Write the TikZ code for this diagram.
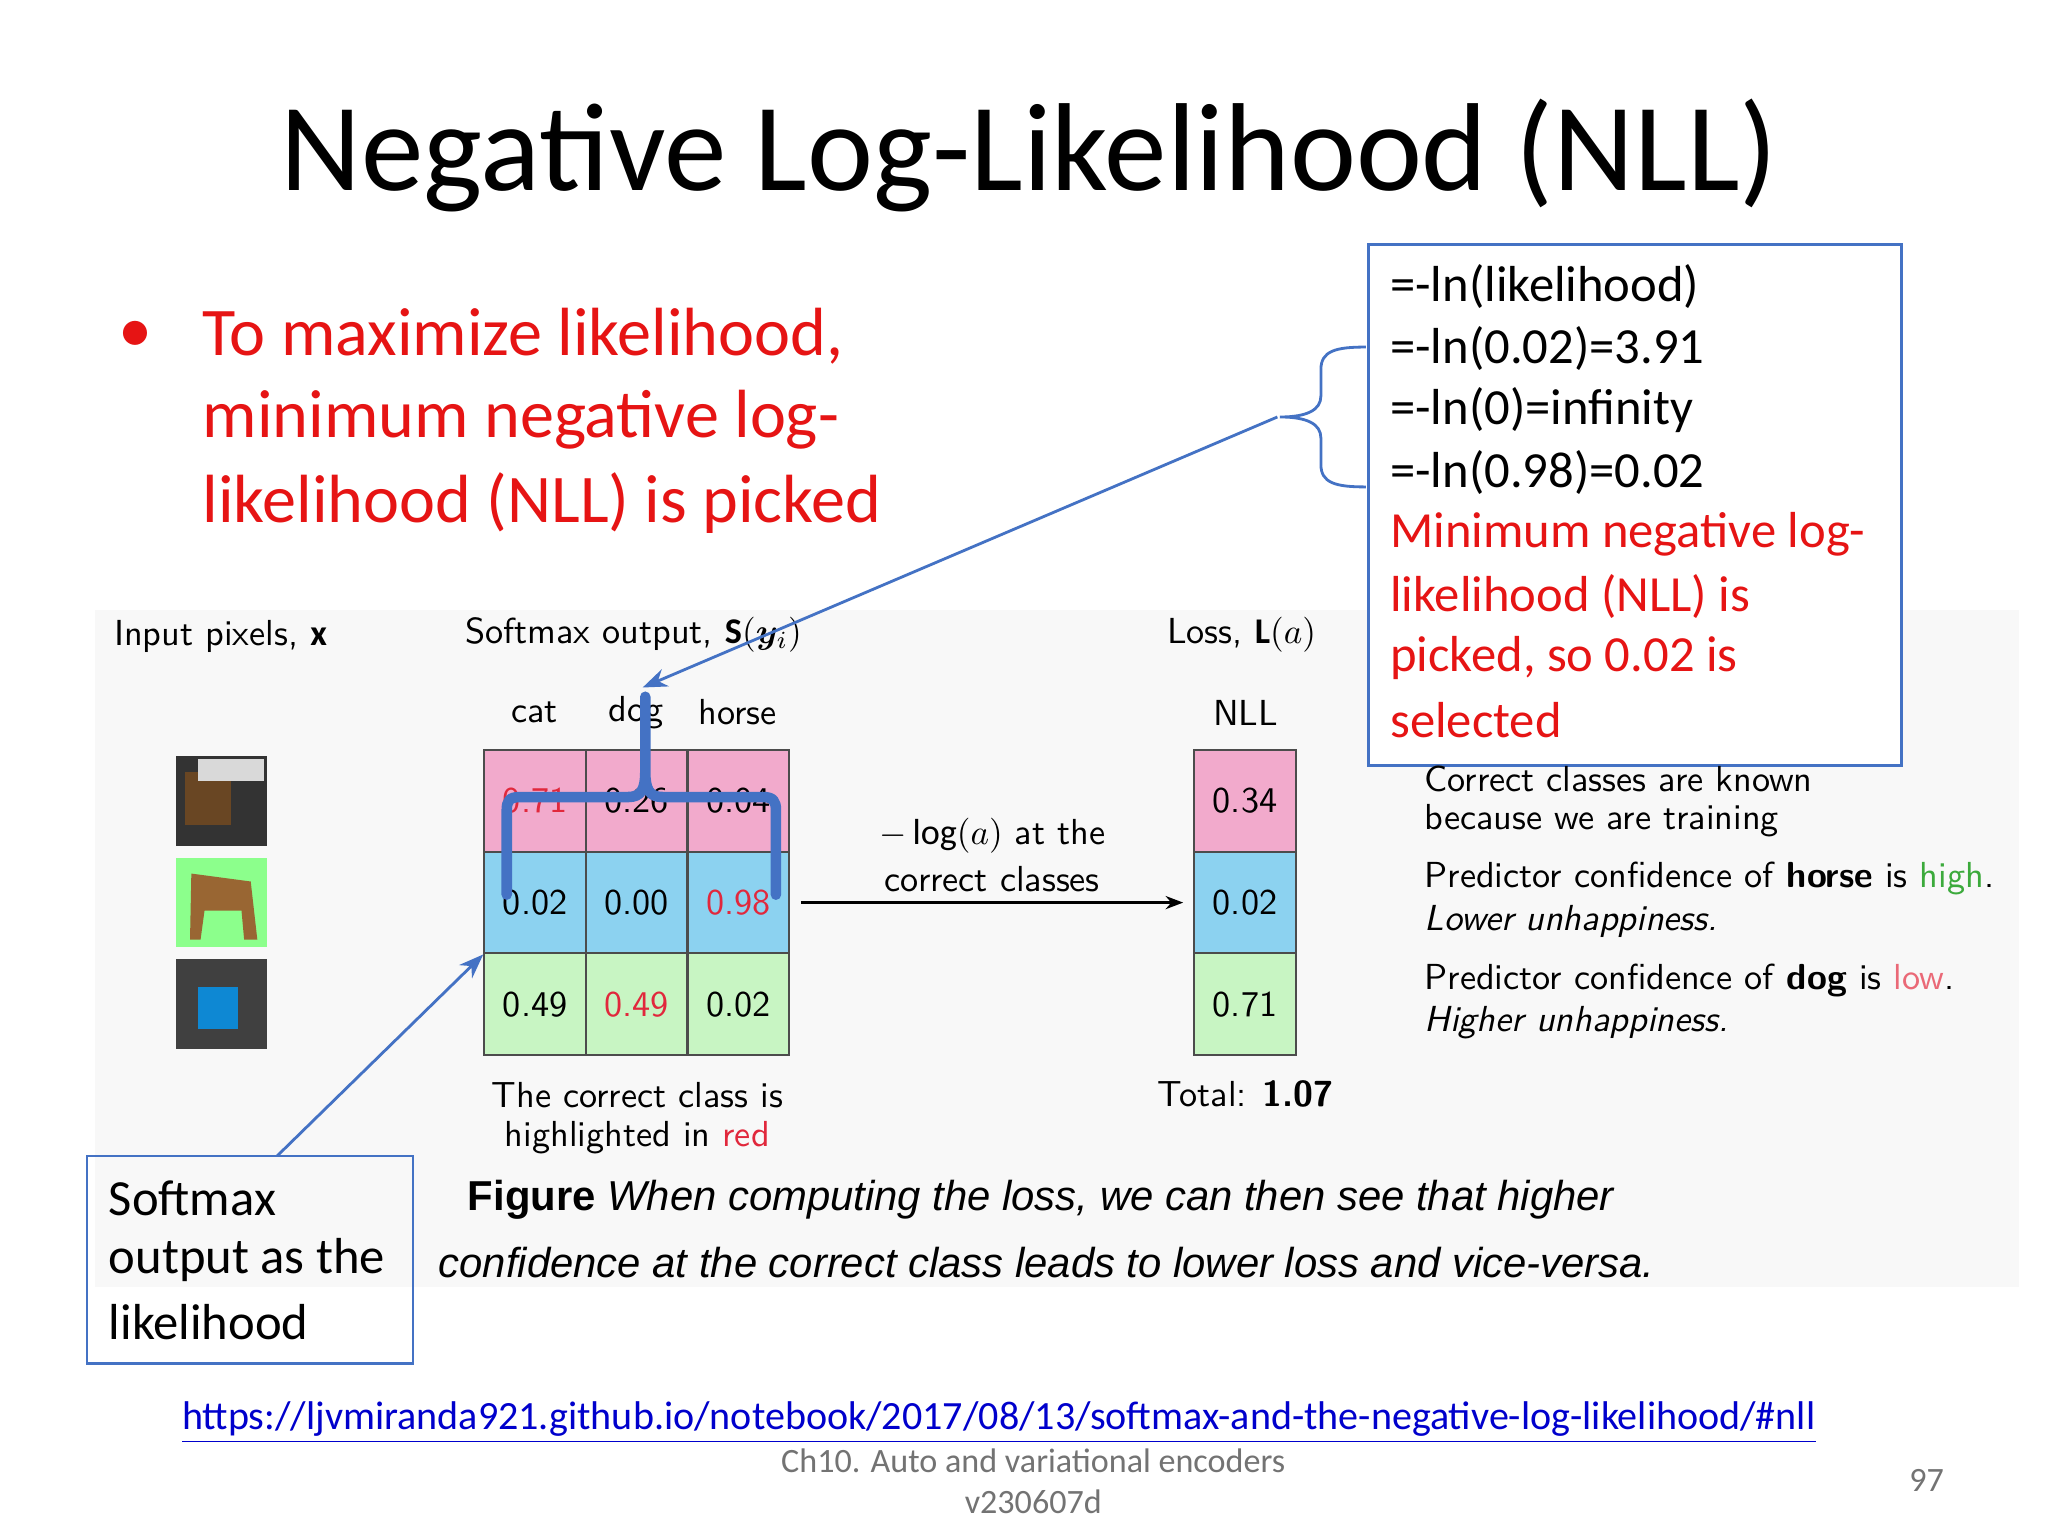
\documentclass[tikz,border=0pt]{standalone}
\usepackage{amsmath,bm}
\usepackage{fontspec}
\setmainfont{Carlito}
\newfontfamily\capfont{Liberation Sans}
\usetikzlibrary{arrows.meta}
\definecolor{pbl}{RGB}{68,114,196}
\definecolor{slred}{RGB}{230,20,20}
\definecolor{cpink}{RGB}{242,170,204}
\definecolor{cblue}{RGB}{140,210,240}
\definecolor{cgreen}{RGB}{200,245,195}
\definecolor{figbg}{RGB}{248,248,248}
\definecolor{hired}{RGB}{225,40,60}
\definecolor{higreen}{RGB}{60,170,60}
\tikzset{
 fig/.style={font=\sffamily\fontsize{10.3}{12}\selectfont, inner sep=0pt},
 cell/.style={draw=black!70, line width=0.6pt, minimum width=77*0.13196mm, minimum height=77*0.13196mm, font=\sffamily\fontsize{10.3}{12}\selectfont, inner sep=0pt},
 bx/.style={draw=pbl, line width=0.8pt},
 btxt/.style={anchor=west, inner sep=0pt, font=\fontsize{14.4}{17}\selectfont},
 bult/.style={anchor=west, inner sep=0pt, text=slred, font=\fontsize{19.4}{23}\selectfont},
}
\begin{document}
\begin{tikzpicture}[x=0.13196mm,y=-0.13196mm]
\useasboundingbox (0,0) rectangle (1552,1164);
\fill[white] (0,0) rectangle (1552,1164);
% figure background
\fill[figbg] (72,462) rectangle (1530,975);
% title
\node[inner sep=0pt, font=\fontsize{35.6}{42}\selectfont] (title) at (780,118) {Negative Log-Likelihood (NLL)};
% bullet
\node[inner sep=0pt, text=slred, font=\fontsize{19.4}{23}\selectfont] (bul) at (103,255) {•};
\node[bult] (b1) at (153,255) {To maximize likelihood,};
\node[bult] (b2) at (153,318) {minimum negative log-};
\node[bult] (b3) at (153,381) {likelihood (NLL) is picked};
% right box
\draw[bx, fill=white] (1037,185) rectangle (1441,580);
\node[btxt] (r1) at (1053,217) {=-ln(likelihood)};
\node[btxt] (r2) at (1053,264) {=-ln(0.02)=3.91};
\node[btxt] (r3) at (1053,311) {=-ln(0)=infinity};
\node[btxt] (r4) at (1053,358) {=-ln(0.98)=0.02};
\node[btxt, text=slred] (r5) at (1053,405) {Minimum negative log-};
\node[btxt, text=slred] (r6) at (1053,452) {likelihood (NLL) is};
\node[btxt, text=slred] (r7) at (1053,499) {picked, so 0.02 is};
\node[btxt, text=slred] (r8) at (1053,546) {selected};
% brace in box
\draw[pbl, line width=0.8pt] (1035,263) .. controls (1012,263) and (1001,266) .. (1001,280) -- (1001,300) .. controls (1001,311) and (990,316) .. (970,316)
  .. controls (990,316) and (1001,321) .. (1001,332) -- (1001,352) .. controls (1001,366) and (1012,369) .. (1035,369);
\coordinate (btip) at (968,316);
% softmax box
\draw[bx] (66,876) rectangle (313,1033);
\coordinate (sbox) at (210,876);
\node[btxt] (s1) at (82,908) {Softmax};
\node[btxt] (s2) at (82,955) {output as the};
\node[btxt] (s3) at (82,1002) {likelihood};
% headers
\node[fig, anchor=west] (h1) at (86,482) {Input pixels, $\mathbf{x}$};
\node[fig, anchor=west] (h2) at (352,481) {Softmax output, $\mathbf{S}(\bm{y}_i)$};
\node[fig, anchor=west] (h3) at (884,481) {Loss, $\mathbf{L}(a)$};
\node[fig] (c1) at (405,540) {cat};
\node[fig] (c2) at (482,540) {dog};
\node[fig] (c3) at (559,540) {horse};
\node[fig] (nll) at (944,540) {NLL};
% images
\fill[black!80] (133,573) rectangle (202,641);
\fill[black!45!brown] (140,585) rectangle (175,625);
\fill[black!15] (150,575) rectangle (200,592);
\fill[green!45!white] (133,650) rectangle (202,718);
\fill[brown!80!black] (145,662) -- (190,668) -- (195,712) -- (185,712) -- (183,690) -- (155,690) -- (152,712) -- (144,712) -- cycle;
\fill[black!75] (133,727) rectangle (202,795);
\fill[cyan!70!blue] (150,748) rectangle (180,780);
% table
\foreach \r/\col/\a/\b/\c/\ca/\cb/\cc [count=\i] in {607/cpink/0.71/0.26/0.04/hired/black/black, 684/cblue/0.02/0.00/0.98/black/black/hired, 761/cgreen/0.49/0.49/0.02/black/hired/black}{
  \node[cell, fill=\col, text=\ca] (t\i a) at (405.5,\r) {\a};
  \node[cell, fill=\col, text=\cb] (t\i b) at (482.5,\r) {\b};
  \node[cell, fill=\col, text=\cc] (t\i c) at (559.5,\r) {\c};
}
\node[cell, fill=cpink] (l1) at (943.5,607) {0.34};
\node[cell, fill=cblue] (l2) at (943.5,684) {0.02};
\node[cell, fill=cgreen] (l3) at (943.5,761) {0.71};
% arrow
\coordinate (ar1) at (607,684);
\draw[-{Stealth[length=5pt]}, line width=0.7pt] (ar1) -- ([xshift=-1mm]l2.west);
\node[fig] (lg1) at (752,633) {$-\log(a)$ at the};
\node[fig] (lg2) at (752,666) {correct classes};
\node[fig] (ct1) at (483,830) {The correct class is};
\node[fig] (ct2) at (483,862) {highlighted in \textcolor{hired}{red}};
\node[fig] (tot) at (944,829) {Total: \textbf{1.07}};
\node[fig, anchor=west] (p1) at (1079,590) {Correct classes are known};
\node[fig, anchor=west] (p2) at (1079,622) {because we are training};
\node[fig, anchor=west] (p3) at (1079,666) {Predictor confidence of \textbf{horse} is \textcolor{higreen}{high}.};
\node[fig, anchor=west] (p4) at (1079,698) {\itshape Lower unhappiness.};
\node[fig, anchor=west] (p5) at (1079,743) {Predictor confidence of \textbf{dog} is \textcolor{hired!70}{low}.};
\node[fig, anchor=west] (p6) at (1079,775) {\itshape Higher unhappiness.};
% caption
\node[anchor=west, inner sep=0pt, font=\capfont\fontsize{11.9}{14}\selectfont] (cap1) at (354,909) {\textbf{Figure} \textit{When computing the loss, we can then see that higher}};
\node[anchor=west, inner sep=0pt, font=\capfont\fontsize{11.9}{14}\selectfont] (cap2) at (332,957) {\textit{confidence at the correct class leads to lower loss and vice-versa.}};
% thick bracket in table
\draw[pbl, line width=3pt, line cap=round, line join=round] (384,678) -- (384,614) .. controls (384,607) and (386,604) .. (394,604) -- (476,604) .. controls (486,604) and (489,598) .. (489,585) -- (489,528)
  -- (489,585) .. controls (489,598) and (492,604) .. (502,604) -- (578,604) .. controls (586,604) and (588,607) .. (588,614) -- (588,678);
\coordinate (dtip) at (487,521);
% connectors
\draw[pbl, line width=0.8pt, -{Stealth[length=7pt]}] (btip) -- (dtip);
\draw[pbl, line width=0.8pt, -{Stealth[length=7pt]}] (sbox) -- (t2a.south west);
% footer
\node[inner sep=0pt, text=blue!80!black, font=\fontsize{11.4}{14}\selectfont] (url) at (757,1078) {\underline{https://ljvmiranda921.github.io/notebook/2017/08/13/softmax-and-the-negative-log-likelihood/\#nll}};
\node[inner sep=0pt, text=black!55, font=\fontsize{9.7}{12}\selectfont] (f1) at (783,1107) {Ch10. Auto and variational encoders};
\node[inner sep=0pt, text=black!55, font=\fontsize{9.7}{12}\selectfont] (f2) at (783,1138) {v230607d};
\node[inner sep=0pt, text=black!55, font=\fontsize{9.7}{12}\selectfont] (pg) at (1460,1122) {97};
\end{tikzpicture}
\end{document}
